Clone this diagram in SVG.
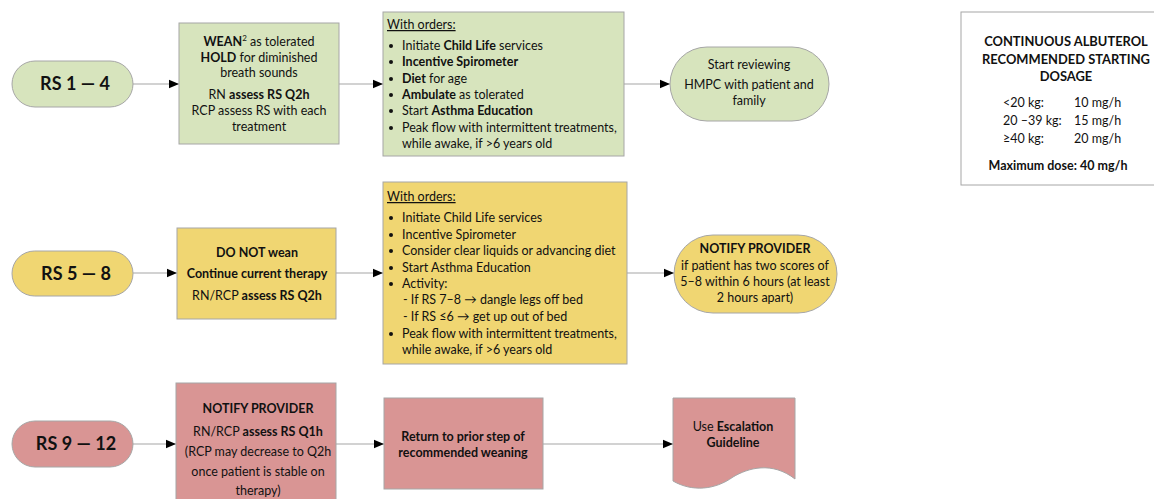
<svg xmlns="http://www.w3.org/2000/svg" width="1154" height="499" viewBox="0 0 1154 499">
<defs>
<marker id="arr" markerUnits="userSpaceOnUse" markerWidth="10" markerHeight="10" viewBox="0 0 10 10" refX="10" refY="5" orient="auto">
<path d="M0,0.8 L10,5 L0,9.2 Z" fill="#000"/>
</marker>
<style>
.g{fill:#d7e4bd;stroke:#a6a6a6;stroke-width:1}
.y{fill:#f0d672;stroke:#a6a6a6;stroke-width:1}
.r{fill:#d99594;stroke:#a6a6a6;stroke-width:1}
.w{fill:#fff;stroke:#a6a6a6;stroke-width:1}
text{font-family:Lato,"Liberation Sans",sans-serif;font-size:12.5px;fill:#111}
.c{text-anchor:middle}
.b{font-weight:bold}
.d{font-size:12.9px}
.big{font-size:18px;font-weight:bold;text-anchor:middle}
.con line{stroke:#a6a6a6;stroke-width:1.2;marker-end:url(#arr)}
</style>
</defs>
<rect width="1154" height="499" fill="#fff"/>

<g class="con">
<line x1="133" y1="84" x2="179" y2="84"/>
<line x1="339" y1="84" x2="383" y2="84"/>
<line x1="624" y1="84" x2="670" y2="84"/>
<line x1="133" y1="273" x2="177" y2="273"/>
<line x1="336" y1="273" x2="383" y2="273"/>
<line x1="627" y1="273" x2="674" y2="273"/>
<line x1="133" y1="444" x2="176" y2="444"/>
<line x1="336" y1="444" x2="384" y2="444"/>
<line x1="543" y1="444" x2="673" y2="444"/>
</g>

<g id="rs14">
<rect class="g" x="12" y="61" width="121" height="46" rx="23"/>
<text class="big" x="75" y="90">RS 1 — 4</text>
</g>

<g id="wean">
<rect class="g" x="179" y="23" width="160" height="121"/>
<text class="c" x="259" y="46"><tspan class="b">WEAN</tspan><tspan font-size="8" dy="-5">2</tspan><tspan dy="5"> as tolerated</tspan></text>
<text class="c" x="259" y="62"><tspan class="b">HOLD</tspan> for diminished</text>
<text class="c" x="259" y="77">breath sounds</text>
<text class="c" x="259" y="99">RN <tspan class="b">assess RS Q2h</tspan></text>
<text class="c" x="259" y="115">RCP assess RS with each</text>
<text class="c" x="259" y="131">treatment</text>
</g>

<g id="orders1">
<rect class="g" x="383" y="12" width="241" height="144"/>
<text x="387" y="29" text-decoration="underline">With orders:</text>
<g fill="#111">
<circle cx="391" cy="46" r="2"/><circle cx="391" cy="62" r="2"/><circle cx="391" cy="79" r="2"/>
<circle cx="391" cy="95" r="2"/><circle cx="391" cy="111" r="2"/><circle cx="391" cy="128" r="2"/>
</g>
<text x="402" y="50">Initiate <tspan class="b">Child Life</tspan> services</text>
<text x="402" y="66" class="b">Incentive Spirometer</text>
<text x="402" y="83"><tspan class="b">Diet</tspan> for age</text>
<text x="402" y="99"><tspan class="b">Ambulate</tspan> as tolerated</text>
<text x="402" y="115">Start <tspan class="b">Asthma Education</tspan></text>
<text x="402" y="132">Peak flow with intermittent treatments,</text>
<text x="402" y="148">while awake, if &gt;6 years old</text>
</g>

<g id="review">
<rect class="g" x="670" y="47" width="159" height="74" rx="37"/>
<text class="c" x="749" y="69">Start reviewing</text>
<text class="c" x="749" y="89">HMPC with patient and</text>
<text class="c" x="749" y="105">family</text>
</g>

<g id="dosage">
<rect class="w" x="961" y="12" width="220" height="173"/>
<text class="c b d" x="1066" y="46">CONTINUOUS ALBUTEROL</text>
<text class="c b d" x="1066" y="64">RECOMMENDED STARTING</text>
<text class="c b d" x="1066" y="81">DOSAGE</text>
<text x="1003" y="107">&lt;20 kg:</text><text x="1074" y="107">10 mg/h</text>
<text x="1003" y="125">20 –39 kg:</text><text x="1074" y="125">15 mg/h</text>
<text x="1003" y="143">≥40 kg:</text><text x="1074" y="143">20 mg/h</text>
<text class="c b" x="1058" y="170">Maximum dose: 40 mg/h</text>
</g>

<g id="rs58">
<rect class="y" x="12" y="251" width="121" height="45" rx="22.5"/>
<text class="big" x="76" y="280">RS 5 — 8</text>
</g>

<g id="donot">
<rect class="y" x="177" y="228" width="159" height="91"/>
<text class="c b" x="257" y="257">DO NOT wean</text>
<text class="c b" x="257" y="278">Continue current therapy</text>
<text class="c" x="257" y="300">RN/RCP <tspan class="b">assess RS Q2h</tspan></text>
</g>

<g id="orders2">
<rect class="y" x="383" y="182" width="244" height="182"/>
<text x="387" y="201" text-decoration="underline">With orders:</text>
<g fill="#111">
<circle cx="391" cy="218" r="2"/><circle cx="391" cy="235" r="2"/><circle cx="391" cy="251" r="2"/>
<circle cx="391" cy="268" r="2"/><circle cx="391" cy="284" r="2"/><circle cx="391" cy="334" r="2"/>
</g>
<text x="402" y="222">Initiate Child Life services</text>
<text x="402" y="239">Incentive Spirometer</text>
<text x="402" y="255">Consider clear liquids or advancing diet</text>
<text x="402" y="272">Start Asthma Education</text>
<text x="402" y="288">Activity:</text>
<text x="403" y="304">-  If RS 7–8 → dangle legs off bed</text>
<text x="403" y="321">-  If RS ≤6 → get up out of bed</text>
<text x="402" y="338">Peak flow with intermittent treatments,</text>
<text x="402" y="354">while awake, if &gt;6 years old</text>
</g>

<g id="notify2">
<rect class="y" x="674" y="235" width="163" height="78" rx="39"/>
<text class="c b" x="755" y="253">NOTIFY PROVIDER</text>
<text class="c" x="755" y="270">if patient has two scores of</text>
<text class="c" x="755" y="286">5–8 within 6 hours (at least</text>
<text class="c" x="755" y="302">2 hours apart)</text>
</g>

<g id="rs912">
<rect class="r" x="12" y="421" width="121" height="46" rx="23"/>
<text class="big" x="76" y="450">RS 9 — 12</text>
</g>

<g id="notify3">
<rect class="r" x="176" y="383" width="160" height="130"/>
<text class="c b" x="258" y="413">NOTIFY PROVIDER</text>
<text class="c" x="258" y="436">RN/RCP <tspan class="b">assess RS Q1h</tspan></text>
<text class="c" x="258" y="456">(RCP may decrease to Q2h</text>
<text class="c" x="258" y="476">once patient is stable on</text>
<text class="c" x="258" y="495">therapy)</text>
</g>

<g id="return">
<rect class="r" x="384" y="398" width="159" height="91"/>
<text class="c b" x="463" y="441">Return to prior step of</text>
<text class="c b" x="463" y="457">recommended weaning</text>
</g>

<g id="escalation">
<path class="r" d="M673,398 H795 V479 C772,461 748,468 733,477 C715,490 692,492 673,481 Z"/>
<text class="c" x="733" y="431">Use <tspan class="b">Escalation</tspan></text>
<text class="c b" x="733" y="447">Guideline</text>
</g>
</svg>
